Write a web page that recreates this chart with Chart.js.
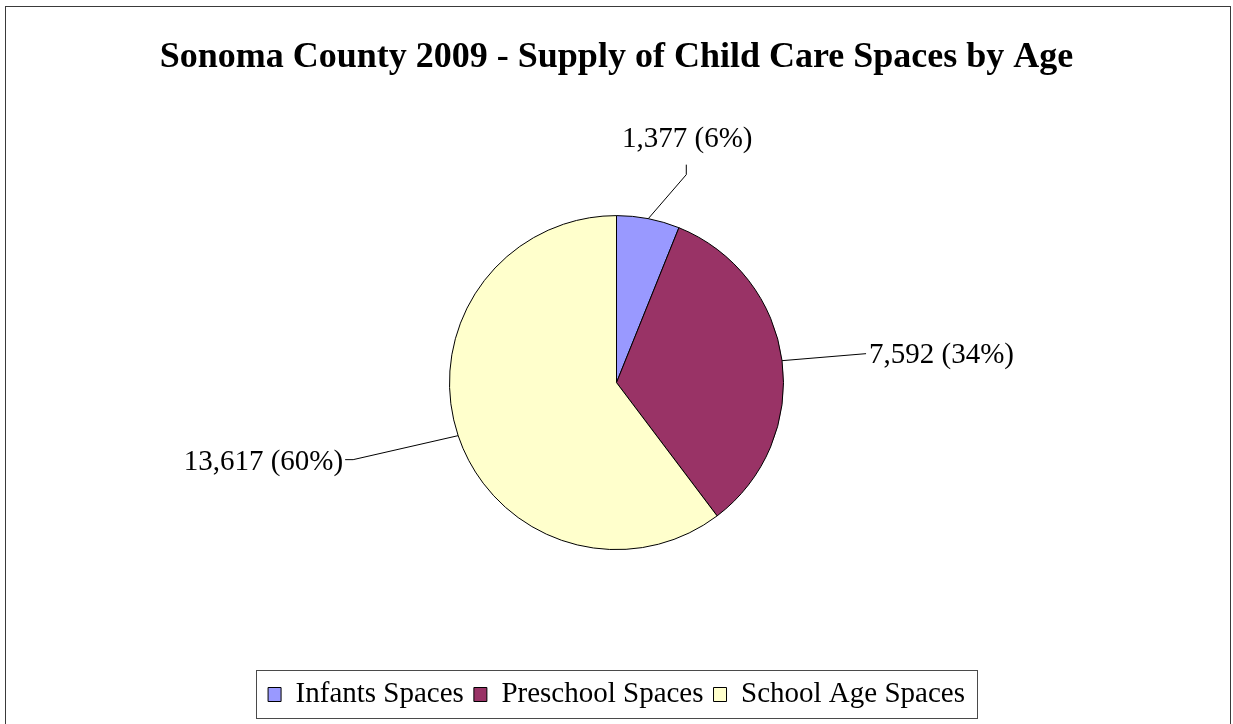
<!DOCTYPE html>
<html>
<head>
<meta charset="utf-8">
<title>Sonoma County 2009 - Supply of Child Care Spaces by Age</title>
<script src="https://cdn.jsdelivr.net/npm/chart.js@4/dist/chart.umd.min.js"></script>
<style>
  html, body { margin: 0; padding: 0; background: #fff; }
  canvas { display: block; }
</style>
</head>
<body>
<canvas id="spacesChart" width="1233" height="724"></canvas>
<script>
const categories = ['Infants Spaces', 'Preschool Spaces', 'School Age Spaces'];
const spaces     = [1377, 7592, 13617];
const colors     = ['#9999FF', '#993366', '#FFFFCC'];

const serif = "'Liberation Serif', 'Times New Roman', serif";

// leader line bends and label anchor, relative to the slice's outer midpoint
const leaders = [
  { path: [[38, -44], [38, -54]], text: [39, -79], align: 'center' },
  { path: [[84, -7]],             text: [87, -5],  align: 'left' },
  { path: [[-105, 24], [-113, 24]], text: [-115, 27], align: 'right' }
];

const sliceLabels = {
  id: 'sliceLabels',
  afterDatasetsDraw(chart) {
    const { ctx } = chart;
    const meta = chart.getDatasetMeta(0);
    const values = chart.data.datasets[0].data;
    const total = values.reduce((a, b) => a + b, 0);
    ctx.save();
    ctx.strokeStyle = '#000';
    ctx.lineWidth = 1;
    ctx.fillStyle = '#000';
    ctx.font = '29px ' + serif;
    ctx.textBaseline = 'middle';
    meta.data.forEach((arc, i) => {
      const { x, y, startAngle, endAngle, outerRadius } =
        arc.getProps(['x', 'y', 'startAngle', 'endAngle', 'outerRadius'], true);
      const mid = (startAngle + endAngle) / 2;
      const ex = x + Math.cos(mid) * outerRadius;
      const ey = y + Math.sin(mid) * outerRadius;
      const l = leaders[i];
      ctx.beginPath();
      ctx.moveTo(ex, ey);
      l.path.forEach(p => ctx.lineTo(ex + p[0], ey + p[1]));
      ctx.stroke();
      const pct = Math.round(values[i] / total * 100);
      ctx.textAlign = l.align;
      ctx.fillText(values[i].toLocaleString('en-US') + ' (' + pct + '%)', ex + l.text[0], ey + l.text[1]);
    });
    ctx.restore();
  }
};

// outer frame and the box round the legend
const frames = {
  id: 'frames',
  afterDraw(chart) {
    const { ctx, legend } = chart;
    ctx.save();
    ctx.strokeStyle = '#3a3a3a';
    ctx.lineWidth = 1;
    ctx.strokeRect(5.5, 6.5, 1225, 760);
    const boxes = legend.legendHitBoxes;
    if (boxes && boxes.length) {
      const first = boxes[0], last = boxes[boxes.length - 1];
      const left = Math.round(first.left - 12) + 0.5;
      const right = Math.round(last.left + last.width + 12) + 0.5;
      ctx.strokeStyle = '#4a4a4a';
      ctx.strokeRect(left, Math.round(legend.top) + 0.5, right - left, Math.round(legend.height) - 1);
    }
    ctx.restore();
  }
};

new Chart(document.getElementById('spacesChart'), {
  type: 'pie',
  data: {
    labels: categories,
    datasets: [{
      data: spaces,
      backgroundColor: colors,
      borderColor: '#000',
      borderWidth: 1,
      radius: 167
    }]
  },
  options: {
    responsive: false,
    animation: false,
    devicePixelRatio: 1,
    events: [],
    layout: { padding: { top: 0, left: 0, right: 0, bottom: 5 } },
    plugins: {
      title: {
        display: true,
        text: 'Sonoma County 2009 - Supply of Child Care Spaces by Age',
        color: '#000',
        font: { family: serif, size: 36, weight: 'bold', lineHeight: 1.2 },
        padding: { top: 36, bottom: 16 }
      },
      legend: {
        position: 'bottom',
        labels: {
          color: '#000',
          font: { family: serif, size: 29 },
          boxWidth: 13,
          boxHeight: 14,
          padding: 10
        }
      },
      tooltip: { enabled: false }
    }
  },
  plugins: [sliceLabels, frames]
});
</script>
</body>
</html>
